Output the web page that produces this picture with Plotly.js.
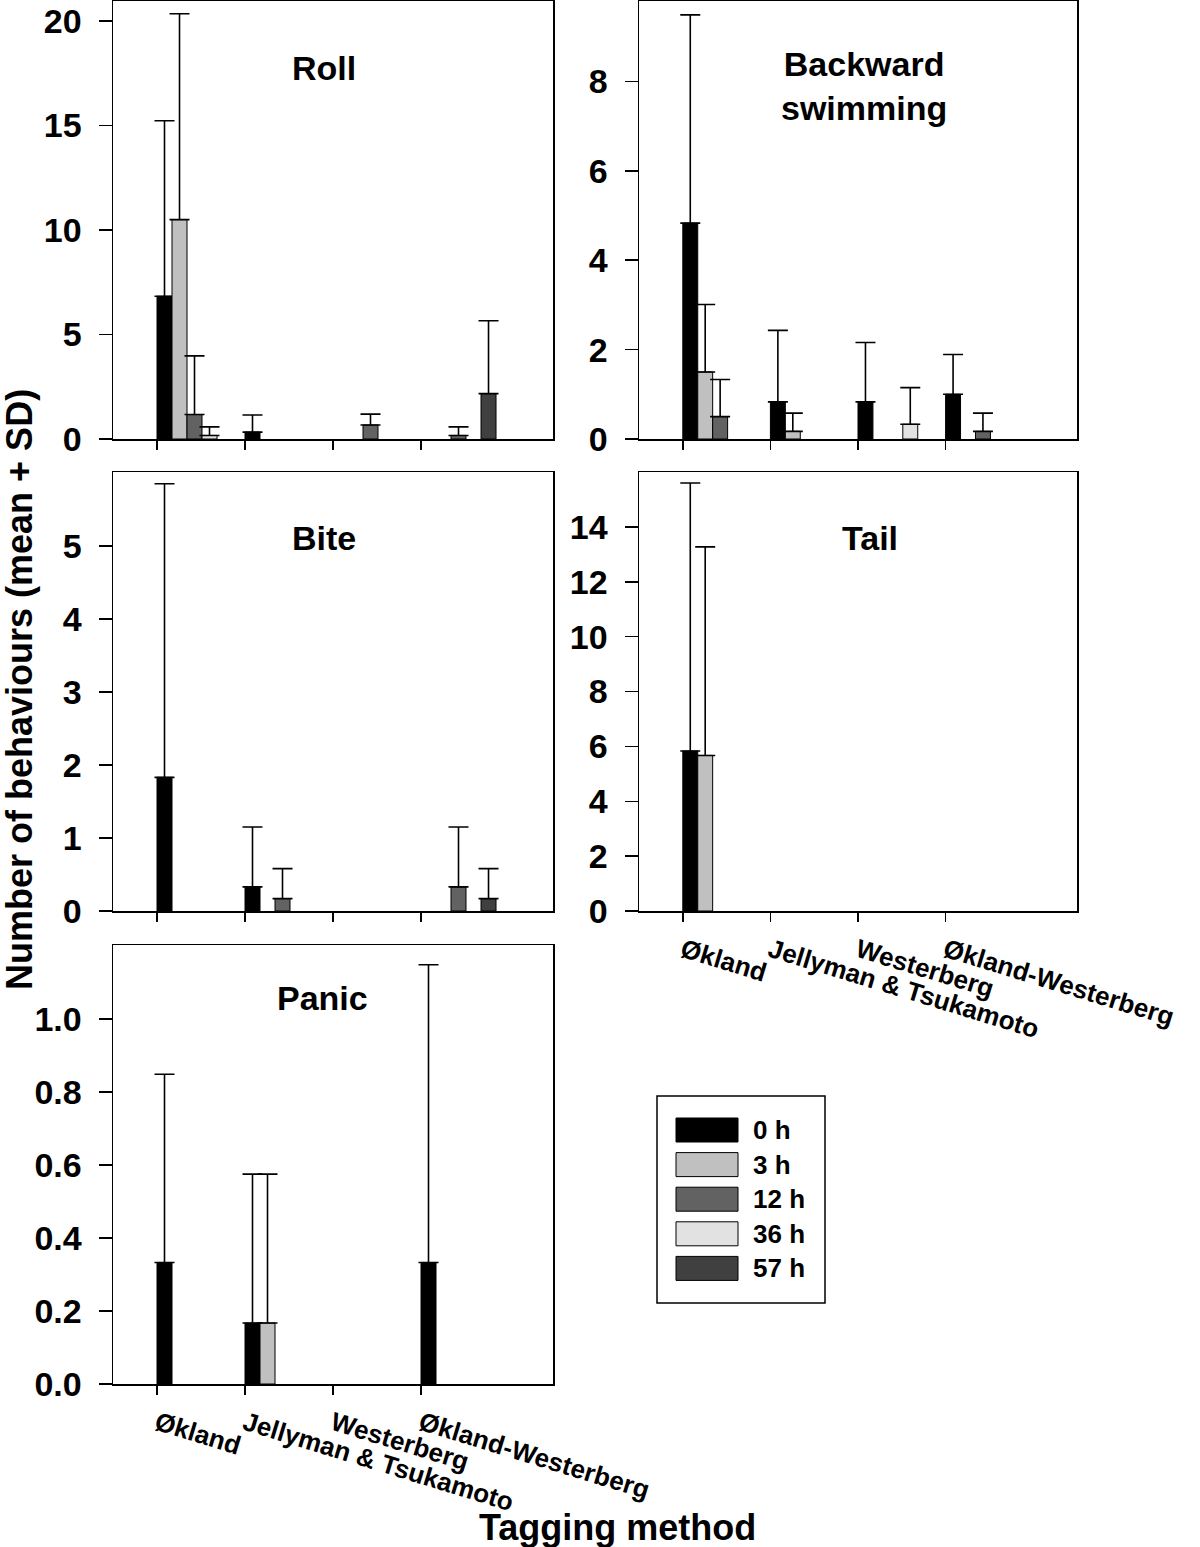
<!DOCTYPE html>
<html>
<head>
<meta charset="utf-8">
<script src="https://cdn.plot.ly/plotly-3.0.1.min.js"></script>
<style>html,body{margin:0;padding:0;background:#fff;}#chart{width:1200px;height:1547px;}</style>
</head>
<body>
<div id="chart"></div>
<script>
// ---------- data ----------
const methods = ['Økland', 'Jellyman & Tsukamoto', 'Westerberg', 'Økland-Westerberg'];
const times = ['0 h', '3 h', '12 h', '36 h', '57 h'];
const timeColors = ['#000000', '#c0c0c0', '#626262', '#e2e2e2', '#404040'];

// rows = times (0,3,12,36,57 h), columns = methods
const rollMean = [
  [6.83, 0.33, null, null],
  [10.5, null, null, null],
  [1.17, null, 0.67, 0.17],
  [0.17, null, null, null],
  [null, null, null, 2.17]
];
const rollSD = [
  [8.40, 0.82, null, null],
  [9.85, null, null, null],
  [2.81, null, 0.52, 0.41],
  [0.41, null, null, null],
  [null, null, null, 3.49]
];
const backMean = [
  [4.83, 0.83, 0.83, 1.00],
  [1.50, 0.17, null, null],
  [0.50, null, null, 0.17],
  [null, null, 0.33, null],
  [null, null, null, null]
];
const backSD = [
  [4.66, 1.60, 1.33, 0.89],
  [1.51, 0.41, null, null],
  [0.83, null, null, 0.41],
  [null, null, 0.82, null],
  [null, null, null, null]
];
const biteMean = [
  [1.83, 0.33, null, null],
  [null, null, null, null],
  [null, 0.17, null, 0.33],
  [null, null, null, null],
  [null, null, null, 0.17]
];
const biteSD = [
  [4.02, 0.82, null, null],
  [null, null, null, null],
  [null, 0.41, null, 0.82],
  [null, null, null, null],
  [null, null, null, 0.41]
];
const tailMean = [
  [5.83, null, null, null],
  [5.67, null, null, null],
  [null, null, null, null],
  [null, null, null, null],
  [null, null, null, null]
];
const tailSD = [
  [9.77, null, null, null],
  [7.60, null, null, null],
  [null, null, null, null],
  [null, null, null, null],
  [null, null, null, null]
];
const panicMean = [
  [0.333, 0.167, null, 0.333],
  [null, 0.167, null, null],
  [null, null, null, null],
  [null, null, null, null],
  [null, null, null, null]
];
const panicSD = [
  [0.516, 0.408, null, 0.816],
  [null, 0.408, null, null],
  [null, null, null, null],
  [null, null, null, null],
  [null, null, null, null]
];

// y tick values per panel
const rollTicks = [0, 5, 10, 15, 20];
const backTicks = [0, 2, 4, 6, 8];
const biteTicks = [0, 1, 2, 3, 4, 5];
const tailTicks = [0, 2, 4, 6, 8, 10, 12, 14];
const panicTicks = [0, 0.2, 0.4, 0.6, 0.8, 1.0];

// ---------- layout helpers ----------
const W = 1200, H = 1547;
const px = x => x / W;
const py = y => 1 - y / H;
const FONT = 'Liberation Sans, Arial, Helvetica, sans-serif';

const panels = [
  {name: 'Roll', mean: rollMean, sd: rollSD, x: [113, 553], y: [439, 1], range: [0, 20.96], ticks: rollTicks, fmt: '', xlabels: false, tx: 0.48, ty: 0.847},
  {name: 'Backward<br>swimming', mean: backMean, sd: backSD, x: [639, 1077], y: [439, 1], range: [0, 9.80], ticks: backTicks, fmt: '', xlabels: false, tx: 0.514, ty: 0.807},
  {name: 'Bite', mean: biteMean, sd: biteSD, x: [113, 553], y: [911, 472], range: [0, 6.01], ticks: biteTicks, fmt: '', xlabels: false, tx: 0.48, ty: 0.85},
  {name: 'Tail', mean: tailMean, sd: tailSD, x: [639, 1077], y: [911, 472], range: [0, 16.0], ticks: tailTicks, fmt: '', xlabels: true, tx: 0.527, ty: 0.85},
  {name: 'Panic', mean: panicMean, sd: panicSD, x: [113, 553], y: [1384, 945], range: [0, 1.203], ticks: panicTicks, fmt: '.1f', xlabels: true, tx: 0.477, ty: 0.879}
];

const barW = 0.1705;
const catIdx = methods.map((m, i) => i);
const traces = [];
const layout = {
  width: W, height: H,
  margin: {l: 0, r: 0, t: 0, b: 0},
  paper_bgcolor: '#fff', plot_bgcolor: '#fff',
  showlegend: false,
  barmode: 'overlay',
  font: {family: FONT, color: '#000'},
  annotations: [], shapes: []
};

panels.forEach((p, k) => {
  const n = k === 0 ? '' : String(k + 1);
  const xa = 'x' + n, ya = 'y' + n;
  times.forEach((t, i) => {
    traces.push({
      type: 'bar', xaxis: xa, yaxis: ya, name: t,
      x: catIdx, y: p.mean[i],
      width: barW, offset: i * barW,
      marker: {color: timeColors[i], line: {color: '#000', width: 1}},
      error_y: {type: 'data', symmetric: false, array: p.sd[i], arrayminus: p.sd[i].map(() => 0),
                color: '#000', thickness: 1.6, width: 10},
      hoverinfo: 'x+y'
    });
  });
  layout['xaxis' + n] = {
    domain: [px(p.x[0]), px(p.x[1])], anchor: ya,
    range: [-0.5, 4.5], tickvals: catIdx, ticktext: methods,
    showticklabels: p.xlabels, tickangle: 17, ticklabelstandoff: 4,
    tickfont: {family: FONT, size: 26, weight: 'bold', color: '#000'},
    ticks: 'outside', ticklen: 9, tickwidth: 1.5, tickcolor: '#000',
    showline: true, linecolor: '#000', linewidth: 1.5, mirror: true,
    showgrid: false, zeroline: false, fixedrange: true
  };
  layout['yaxis' + n] = {
    domain: [py(p.y[0]), py(p.y[1])], anchor: xa,
    range: p.range, tickvals: p.ticks, tickformat: p.fmt,
    tickfont: {family: FONT, size: 34, weight: 'bold', color: '#000'},
    ticklabelstandoff: 10,
    ticks: 'outside', ticklen: 13, tickwidth: 1.5, tickcolor: '#000',
    showline: true, linecolor: '#000', linewidth: 1.5, mirror: true,
    showgrid: false, zeroline: false, fixedrange: true
  };
  layout.annotations.push({
    xref: xa + ' domain', yref: ya + ' domain', x: p.tx, y: p.ty,
    xanchor: 'center', yanchor: 'middle', showarrow: false,
    text: p.name, font: {family: FONT, size: 34, weight: 'bold', color: '#000'}
  });
});

// axis titles
layout.annotations.push({
  xref: 'paper', yref: 'paper', x: px(617), y: py(1527), xanchor: 'center', yanchor: 'middle',
  showarrow: false, text: 'Tagging method', font: {family: FONT, size: 36, weight: 'bold', color: '#000'}
});
layout.annotations.push({
  xref: 'paper', yref: 'paper', x: px(19), y: py(690), xanchor: 'center', yanchor: 'middle',
  showarrow: false, textangle: -90, text: 'Number of behaviours (mean + SD)',
  font: {family: FONT, size: 36, weight: 'bold', color: '#000'}
});

// legend (drawn from times / timeColors)
layout.shapes.push({type: 'rect', xref: 'paper', yref: 'paper', x0: px(657), x1: px(825), y0: py(1303), y1: py(1096),
  line: {color: '#000', width: 1.5}, fillcolor: 'rgba(0,0,0,0)'});
times.forEach((t, i) => {
  const cy = 1130 + i * 34.6;
  layout.shapes.push({type: 'rect', xref: 'paper', yref: 'paper', x0: px(676), x1: px(738), y0: py(cy + 12), y1: py(cy - 12),
    line: {color: '#000', width: 1}, fillcolor: timeColors[i]});
  layout.annotations.push({xref: 'paper', yref: 'paper', x: px(751), y: py(cy), xanchor: 'left', yanchor: 'middle',
    showarrow: false, text: t, font: {family: FONT, size: 26, weight: 'bold', color: '#000'}});
});

Plotly.newPlot('chart', traces, layout, {displayModeBar: false, staticPlot: true});
</script>
</body>
</html>
